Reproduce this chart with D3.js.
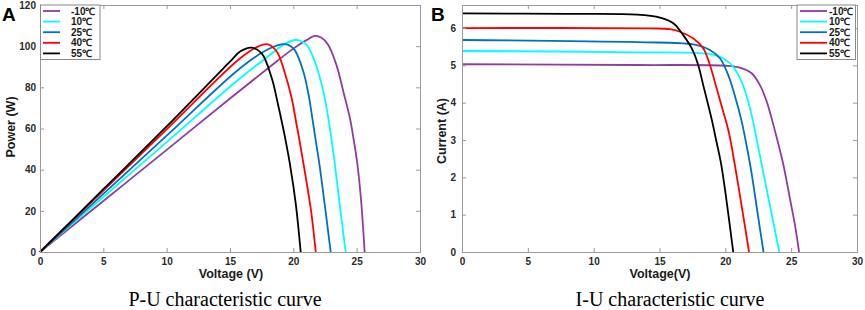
<!DOCTYPE html>
<html><head><meta charset="utf-8">
<script src="https://cdn.jsdelivr.net/npm/d3@7"></script>
<style>
body{margin:0;background:#fff}
text{font-family:Arial,"Liberation Sans",sans-serif}
</style></head>
<body><svg id="c" width="865" height="310"></svg>
<script>
// ---------- data ----------
const seriesNames = ["-10\u2103", "10\u2103", "25\u2103", "40\u2103", "55\u2103"];
const voltageTicks = [0, 5, 10, 15, 20, 25, 30];
const powerTicks = [0, 20, 40, 60, 80, 100, 120];
const currentTicks = [0, 1, 2, 3, 4, 5, 6];

// P-U curves: [voltage V, power W]
const puM10 = [[0,0],[5,24.8],[10,49.6],[15,74.6],[18,89.3],[20,98.8],[21,102.8],[21.7,105],[22.2,104.2],[22.76,100.6],[23.4,90.9],[23.95,77.9],[24.47,65],[24.7,57],[25.05,43],[25.35,25],[25.63,0]];
const pu10  = [[0,0],[5,26.7],[10,53.4],[15.8,84.4],[18,95],[19.2,100.6],[20.1,103],[20.6,102.5],[21.05,100.6],[21.7,92.5],[22.37,77.9],[22.8,63.5],[23.2,46.5],[23.6,26],[24.13,0]];
const pu25  = [[0,0],[5,28.2],[10,56.5],[15.8,89.3],[18,98.5],[19.2,101],[19.6,100.6],[20.1,98.2],[20.8,87.5],[21.2,76.5],[21.5,65],[21.7,56.9],[22.05,43],[22.5,22],[22.95,0]];
const pu40  = [[0,0],[5,29.8],[10,59.6],[15.8,94.1],[17.2,99.8],[18.0,100.9],[18.7,97.3],[19.3,87.6],[19.87,74.7],[20.26,61.7],[20.45,55.5],[20.84,41.5],[21.4,20],[21.77,0]];
const pu55  = [[0,0],[5,30.5],[10,61],[15,92.5],[15.8,97.4],[16.7,99.3],[17.5,96.5],[18.3,84.4],[18.8,71.4],[19.3,57],[19.75,42],[20.2,23],[20.58,0]];

// I-U curves: [voltage V, current A]
const iuM10 = [[0,5.03],[13.3,5.01],[20.1,4.99],[21.1,4.94],[22.0,4.79],[22.63,4.47],[23.14,4.03],[23.5,3.6],[23.95,3.0],[24.4,2.35],[24.95,1.35],[25.3,0.7],[25.6,0]];
const iu10  = [[0,5.385],[13.3,5.35],[18.83,5.3],[19.84,5.19],[20.6,4.96],[21.24,4.56],[21.74,4.03],[22.1,3.5],[22.5,2.8],[22.9,2.1],[23.5,1.05],[24.1,0]];
const iu25  = [[0,5.68],[13.3,5.62],[17.57,5.56],[18.83,5.41],[19.59,5.19],[20.22,4.74],[20.73,4.18],[21.24,3.5],[21.6,2.88],[22.0,2.1],[22.45,1.04],[22.9,0]];
const iu40  = [[0,6.0],[14.26,5.99],[15.8,5.97],[16.56,5.9],[17.57,5.72],[18.32,5.46],[18.83,5.01],[19.34,4.38],[19.84,3.76],[20.27,3.2],[20.7,2.38],[21.3,1.1],[21.8,0]];
const iu55  = [[0,6.39],[8,6.38],[13.3,6.36],[15.04,6.28],[16.05,6.13],[16.8,5.81],[17.44,5.46],[17.94,5.01],[18.32,4.47],[18.7,3.94],[19.0,3.5],[19.3,3.0],[19.67,2.38],[20.1,1.35],[20.6,0]];

const colors = ["#8e3c9e", "#00ffff", "#0072bd", "#ff0000", "#000000"];

// ---------- drawing ----------
const svg = d3.select("#c");

function panel(o) {
  const x = d3.scaleLinear().domain([0, 30]).range([o.x0, o.x1]);
  const y = d3.scaleLinear().domain([0, o.ymax]).range([252, 5]);
  const g = svg.append("g");
  const axisColor = "#9a9a9a";
  const tl = 4;

  // curves
  const line = d3.line().x(d => x(d[0])).y(d => y(d[1])).curve(d3.curveCatmullRom.alpha(0.5));
  o.series.forEach((s, i) => {
    g.append("path").attr("d", line(s)).attr("fill", "none")
      .attr("stroke", colors[i]).attr("stroke-width", 1.8);
  });

  // axes (MATLAB-style box with inward ticks)
  const bottom = d3.axisBottom(x).tickValues(voltageTicks).tickSize(-tl).tickPadding(6).tickFormat(d3.format("d"));
  const top = d3.axisTop(x).tickValues(voltageTicks).tickSize(-tl).tickFormat("");
  const left = d3.axisLeft(y).tickValues(o.yTicks).tickSize(-tl).tickPadding(o.ypad).tickFormat(d3.format("d"));
  const right = d3.axisRight(y).tickValues(o.yTicks).tickSize(-tl).tickFormat("");
  const styleAxis = sel => {
    sel.selectAll("path.domain").attr("stroke", axisColor);
    sel.selectAll(".tick line").attr("stroke", axisColor);
    sel.selectAll(".tick text").attr("fill", "#2a2a2a").style("font-size", "10px").style("font-weight", "bold").style("font-family", "Arial, 'Liberation Sans', sans-serif");
  };
  g.append("g").attr("transform", `translate(0,${y(0)})`).call(bottom).call(styleAxis);
  g.append("g").attr("transform", `translate(0,${y(o.ymax)})`).call(top).call(styleAxis);
  g.append("g").attr("transform", `translate(${x(0)},0)`).call(left).call(styleAxis);
  g.append("g").attr("transform", `translate(${x(30)},0)`).call(right).call(styleAxis);

  // axis labels
  g.append("text").attr("x", o.xlabX).attr("y", 278).attr("text-anchor", "middle")
    .style("font-size", "12.5px").style("font-weight", "bold").attr("fill", "#1a1a1a").text(o.xlabel);
  g.append("text").attr("transform", `translate(${o.ylabX},${o.ylabY}) rotate(-90)`).attr("text-anchor", "middle")
    .style("font-size", "12.5px").style("font-weight", "bold").attr("fill", "#1a1a1a").text(o.ylabel);

  // panel letter
  g.append("text").attr("x", o.letterX).attr("y", 21).style("font-size", "19px").style("font-weight", "bold")
    .attr("fill", "#000").text(o.letter);

  // caption
  g.append("text").attr("x", o.capX).attr("y", 306).attr("text-anchor", "middle")
    .style("font-family", "'Liberation Serif','Times New Roman',serif").style("font-size", "20px")
    .attr("fill", "#000").text(o.caption);

  // legend
  const L = o.legend;
  const lg = g.append("g");
  lg.append("rect").attr("x", L.x).attr("y", 5).attr("width", L.w).attr("height", 54.5)
    .attr("fill", "#fff").attr("stroke", "#8a8a8a").attr("stroke-width", 1);
  seriesNames.forEach((n, i) => {
    const yy = 11 + i * 10.6;
    lg.append("line").attr("x1", L.lx1).attr("x2", L.lx2).attr("y1", yy).attr("y2", yy)
      .attr("stroke", colors[i]).attr("stroke-width", 1.8);
    lg.append("text").attr("x", L.tx).attr("y", yy + 3.6).style("font-size", "10px").style("font-weight", "bold")
      .attr("fill", "#1a1a1a").text(n);
  });
}

panel({
  x0: 40, x1: 420, ymax: 120, yTicks: powerTicks, ypad: 4,
  series: [puM10, pu10, pu25, pu40, pu55],
  xlabel: "Voltage (V)", xlabX: 231, ylabel: "Power (W)", ylabX: 15, ylabY: 127,
  letter: "A", letterX: 2, caption: "P-U characteristic curve", capX: 225,
  legend: { x: 40.5, w: 59.5, lx1: 43, lx2: 60, tx: 71 }
});
panel({
  x0: 462, x1: 857, ymax: 6.617, yTicks: currentTicks, ypad: 6,
  series: [iuM10, iu10, iu25, iu40, iu55],
  xlabel: "Voltage(V)", xlabX: 660, ylabel: "Current (A)", ylabX: 446, ylabY: 131,
  letter: "B", letterX: 431, caption: "I-U characteristic curve", capX: 670,
  legend: { x: 797, w: 58.5, lx1: 800, lx2: 827, tx: 829 }
});
</script></body></html>
